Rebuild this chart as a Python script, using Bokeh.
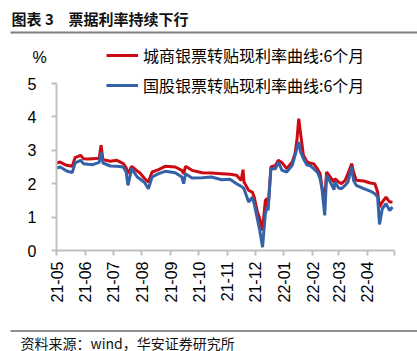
import math
import pandas as pd
from bokeh.plotting import figure
from bokeh.models import (Range1d, LinearAxis, FixedTicker, Label, Legend, LegendItem,
                          BoxAnnotation, ColumnDataSource)
from bokeh.embed import file_html
from bokeh.resources import INLINE

# ---------------- data ----------------
dates = ["2021-05-01", "2021-05-05", "2021-05-08", "2021-05-12", "2021-05-18", "2021-05-21",
         "2021-05-27", "2021-05-30", "2021-06-04", "2021-06-09", "2021-06-16", "2021-06-18",
         "2021-06-20", "2021-06-28", "2021-07-05", "2021-07-12", "2021-07-15", "2021-07-17",
         "2021-07-21", "2021-07-27", "2021-07-30", "2021-08-04", "2021-08-08", "2021-08-12",
         "2021-08-19", "2021-08-26", "2021-09-06", "2021-09-13", "2021-09-15", "2021-09-17",
         "2021-09-24", "2021-10-05", "2021-10-15", "2021-10-26", "2021-11-04", "2021-11-11",
         "2021-11-16", "2021-11-18", "2021-11-19", "2021-11-24", "2021-11-28", "2021-11-30",
         "2021-12-03", "2021-12-06", "2021-12-09", "2021-12-12", "2021-12-14", "2021-12-15",
         "2021-12-18", "2021-12-23", "2021-12-26", "2021-12-30", "2022-01-04", "2022-01-10",
         "2022-01-13", "2022-01-15", "2022-01-17", "2022-01-19", "2022-01-22", "2022-01-26",
         "2022-01-29", "2022-02-02", "2022-02-06", "2022-02-09", "2022-02-11", "2022-02-14",
         "2022-02-16", "2022-02-20", "2022-02-24", "2022-02-25", "2022-03-01", "2022-03-04",
         "2022-03-08", "2022-03-11", "2022-03-15", "2022-03-17", "2022-03-20", "2022-03-28",
         "2022-04-04", "2022-04-09", "2022-04-12", "2022-04-14", "2022-04-17", "2022-04-21",
         "2022-04-25", "2022-04-28"]

city_bank = [2.62, 2.65, 2.60, 2.55, 2.52, 2.78, 2.85, 2.75, 2.74, 2.75, 2.76, 3.15,
             2.72, 2.67, 2.70, 2.60, 2.48, 2.30, 2.52, 2.38, 2.32, 2.15, 2.05, 2.35,
             2.42, 2.52, 2.50, 2.40, 2.30, 2.52, 2.40, 2.33, 2.32, 2.30, 2.28, 2.25,
             2.10, 2.42, 2.05, 1.80, 1.75, 1.60, 1.20, 0.95, 0.60, 1.50, 1.55, 1.30,
             2.50, 2.55, 2.70, 2.63, 2.45, 2.65, 2.90, 3.30, 3.95, 3.50, 2.85, 2.65,
             2.62, 2.60, 2.45, 2.30, 1.90, 1.50, 2.35, 2.20, 2.05, 2.15, 2.05, 2.00,
             2.10, 2.30, 2.60, 2.35, 2.10, 2.08, 2.02, 2.00, 1.75, 1.30, 1.45, 1.60,
             1.45, 1.45]

state_bank = [2.47, 2.50, 2.45, 2.38, 2.33, 2.62, 2.70, 2.60, 2.58, 2.57, 2.64, 2.95,
              2.62, 2.53, 2.52, 2.50, 2.35, 1.95, 2.45, 2.20, 2.14, 2.03, 1.85, 2.20,
              2.30, 2.37, 2.33, 2.20, 2.00, 2.30, 2.17, 2.18, 2.20, 2.12, 2.13, 2.00,
              1.92, 1.88, 1.85, 1.45, 1.60, 1.40, 1.00, 0.60, 0.10, 1.10, 1.30, 1.20,
              2.45, 2.45, 2.65, 2.40, 2.35, 2.55, 2.85, 3.05, 3.25, 2.95, 2.75, 2.55,
              2.55, 2.45, 2.35, 2.15, 1.85, 1.05, 2.25, 2.05, 1.82, 2.05, 1.87, 1.85,
              1.95, 2.05, 2.50, 2.10, 1.95, 1.85, 1.78, 1.70, 1.60, 0.78, 1.25, 1.40,
              1.20, 1.30]

tick_labels = ["21-05", "21-06", "21-07", "21-08", "21-09", "21-10",
               "21-11", "21-12", "22-01", "22-02", "22-03", "22-04"]
axis_end_date = "2022-04-30"
y_ticks = [0, 1, 2, 3, 4, 5]

series_names = ["城商银票转贴现利率曲线:6个月", "国股银票转贴现利率曲线:6个月"]
title_prefix = "图表 3"
title_text = "票据利率持续下行"
source_text = "资料来源：wind，华安证券研究所"

# ---------------- geometry ----------------
W, H = 417, 351
ORIGIN = pd.Timestamp("2021-05-01")
PXD = 310.0 / 334.0      # pixels per day
PYU = 33.4               # pixels per unit
X0_PX, Y0_PX = 56.0, 250.0

def dx(px):
    return (px - X0_PX) / PXD

def dy(py):
    return (Y0_PX - py) / PYU

day = [(pd.Timestamp(d) - ORIGIN).days for d in dates]
tick_days = [(pd.Timestamp("20" + t + "-01") - ORIGIN).days for t in tick_labels]
end_day = (pd.Timestamp(axis_end_date) - ORIGIN).days

src = ColumnDataSource(dict(x=day, red=city_bank, blue=state_bank))

p = figure(width=W, height=H, output_backend="svg", toolbar_location=None,
           x_axis_location=None, y_axis_location=None,
           x_range=Range1d(dx(0), dx(W)), y_range=Range1d(dy(H), dy(0)),
           min_border=0, min_border_left=0, min_border_right=0,
           min_border_top=0, min_border_bottom=0)
p.outline_line_color = None
p.xgrid.visible = False
p.ygrid.visible = False
p.background_fill_color = "white"
p.border_fill_color = "white"

AX_COLOR = "#BFBFBF"
TICK_FONT = "Liberation Sans"

yaxis = LinearAxis(fixed_location=0, bounds=(0, 5), ticker=FixedTicker(ticks=y_ticks))
yaxis.axis_line_color = AX_COLOR
yaxis.axis_line_width = 2
yaxis.major_tick_line_color = AX_COLOR
yaxis.major_tick_line_width = 2
yaxis.major_tick_out = 5
yaxis.major_tick_in = 0
yaxis.minor_tick_line_color = None
yaxis.major_label_standoff = 15
yaxis.major_label_text_font = TICK_FONT
yaxis.major_label_text_font_size = "16px"
yaxis.major_label_text_color = "black"
p.add_layout(yaxis, "left")

overrides = {d: lbl for d, lbl in zip(tick_days, tick_labels)}
overrides[end_day] = ""
xaxis = LinearAxis(fixed_location=0, bounds=(0, end_day),
                   ticker=FixedTicker(ticks=tick_days + [end_day]),
                   major_label_overrides=overrides)
xaxis.axis_line_color = AX_COLOR
xaxis.axis_line_width = 2
xaxis.major_tick_line_color = AX_COLOR
xaxis.major_tick_line_width = 2
xaxis.major_tick_out = 5
xaxis.major_tick_in = 0
xaxis.minor_tick_line_color = None
xaxis.major_label_orientation = math.pi / 2
xaxis.major_label_standoff = 6
xaxis.major_label_text_font = TICK_FONT
xaxis.major_label_text_font_size = "16px"
xaxis.major_label_text_color = "black"
p.add_layout(xaxis, "below")

r_red = p.line("x", "red", source=src, line_color="#CC0A12", line_width=3)
r_blue = p.line("x", "blue", source=src, line_color="#3462A8", line_width=3)

legend = Legend(items=[LegendItem(label=series_names[0], renderers=[r_red]),
                       LegendItem(label=series_names[1], renderers=[r_blue])],
                location=(106, 254))
legend.glyph_width = 32
legend.glyph_height = 20
legend.label_height = 20
legend.label_standoff = 5
legend.spacing = 6
legend.padding = 0
legend.margin = 0
legend.border_line_color = None
legend.background_fill_alpha = 0
legend.label_text_font = "Noto Sans CJK SC"
legend.label_text_font_size = "16px"
legend.label_text_color = "black"
p.add_layout(legend)

CJK = "Noto Sans CJK SC"
p.add_layout(Label(x=dx(11), y=dy(18), text=title_prefix, text_font=CJK,
                   text_font_size="15px", text_font_style="bold", text_baseline="middle",
                   text_color="#111111"))
p.add_layout(Label(x=dx(68), y=dy(18), text=title_text, text_font=CJK,
                   text_font_size="15px", text_font_style="bold", text_baseline="middle",
                   text_color="#111111"))
p.add_layout(BoxAnnotation(left=dx(10), right=dx(W), bottom=dy(33), top=dy(31),
                           fill_color="#7F7F7F", fill_alpha=1, line_color=None))
p.add_layout(Label(x=dx(39), y=dy(57), text="%", text_font=TICK_FONT,
                   text_font_size="16px", text_align="center", text_baseline="middle",
                   text_color="black"))
p.add_layout(BoxAnnotation(left=dx(10), right=dx(W), bottom=dy(331), top=dy(330),
                           fill_color="#222222", fill_alpha=1, line_color=None))
p.add_layout(Label(x=dx(20), y=dy(342), text=source_text, text_font=CJK,
                   text_font_size="14px", text_baseline="middle", text_color="#111111"))

open("out.html", "w").write(file_html(p, INLINE))
